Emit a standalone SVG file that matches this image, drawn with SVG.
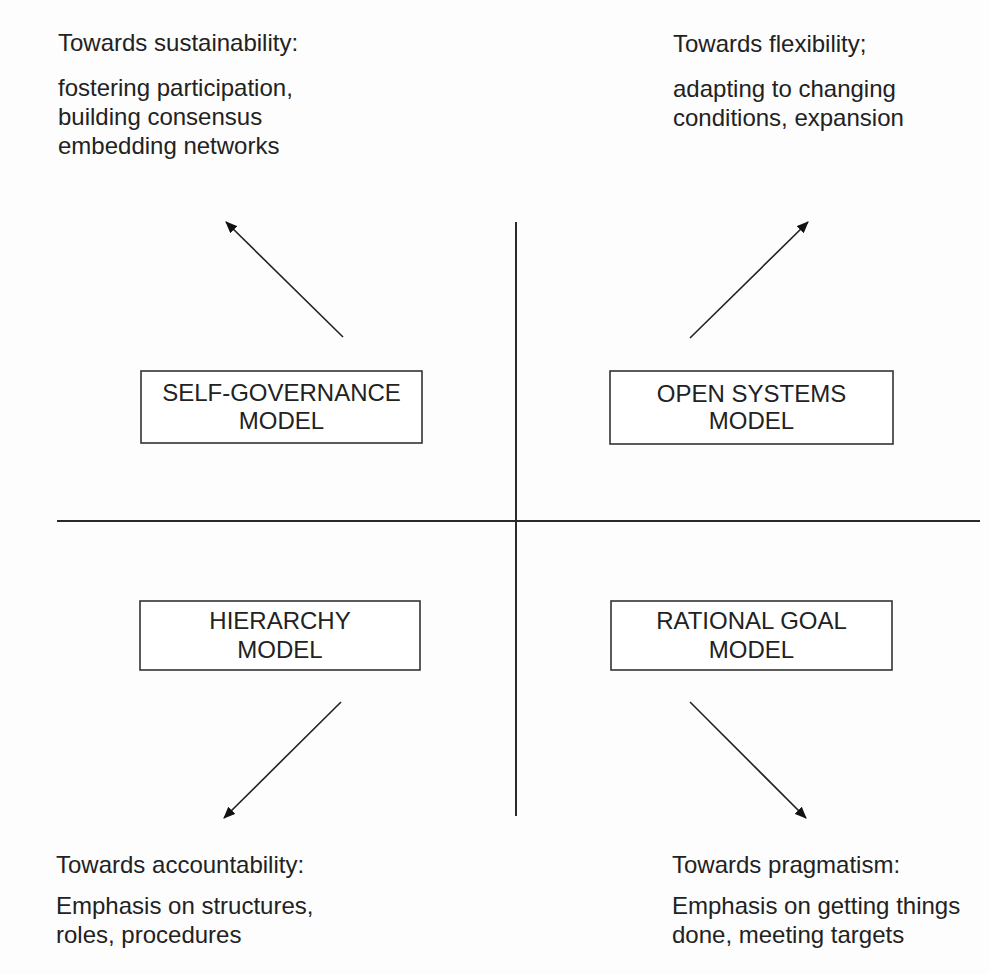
<svg xmlns="http://www.w3.org/2000/svg" width="989" height="974" viewBox="0 0 989 974">
<defs>
<style>
text{font-family:"Liberation Sans",Arial,sans-serif;font-size:24px;fill:#222}
.box{fill:#fff;stroke:#333;stroke-width:1.6}
.mid{text-anchor:middle}
.axis{stroke:#2a2a2a;stroke-width:2}
.arr{stroke:#222;stroke-width:1.6;fill:none;marker-end:url(#ah)}
</style>
<marker id="ah" viewBox="0 0 12 10" refX="11" refY="5" markerWidth="12" markerHeight="10" markerUnits="userSpaceOnUse" orient="auto">
<path d="M0,0 L12,5 L0,10 Z" fill="#111"/>
</marker>
</defs>
<rect width="989" height="974" fill="#fdfdfd"/>
<g id="connectors">
<line class="axis" x1="57" y1="521" x2="980" y2="521"/>
<line class="axis" x1="516" y1="222" x2="516" y2="816"/>
<line class="arr" x1="343" y1="337" x2="226" y2="222"/>
<line class="arr" x1="690" y1="338" x2="808" y2="222"/>
<line class="arr" x1="341" y1="702" x2="224" y2="818"/>
<line class="arr" x1="690" y1="702" x2="806" y2="818"/>
</g>
<g id="sustainability">
<text x="58" y="51">Towards sustainability:</text>
<text x="58" y="96">fostering participation,</text>
<text x="58" y="125">building consensus</text>
<text x="58" y="154">embedding networks</text>
</g>
<g id="flexibility">
<text x="673" y="52">Towards flexibility;</text>
<text x="673" y="97">adapting to changing</text>
<text x="673" y="126">conditions, expansion</text>
</g>
<g id="accountability">
<text x="56" y="873">Towards accountability:</text>
<text x="56" y="914">Emphasis on structures,</text>
<text x="56" y="943">roles, procedures</text>
</g>
<g id="pragmatism">
<text x="672" y="873">Towards pragmatism:</text>
<text x="672" y="914">Emphasis on getting things</text>
<text x="672" y="943">done, meeting targets</text>
</g>
<g id="self-governance">
<rect class="box" x="141" y="371" width="281" height="72"/>
<text class="mid" x="281.5" y="401">SELF-GOVERNANCE</text>
<text class="mid" x="281.5" y="429">MODEL</text>
</g>
<g id="open-systems">
<rect class="box" x="610" y="371" width="283" height="73"/>
<text class="mid" x="751.5" y="402">OPEN SYSTEMS</text>
<text class="mid" x="751.5" y="429">MODEL</text>
</g>
<g id="hierarchy">
<rect class="box" x="140" y="601" width="280" height="69"/>
<text class="mid" x="280" y="629">HIERARCHY</text>
<text class="mid" x="280" y="658">MODEL</text>
</g>
<g id="rational-goal">
<rect class="box" x="611" y="601" width="281" height="69"/>
<text class="mid" x="751.5" y="629">RATIONAL GOAL</text>
<text class="mid" x="751.5" y="658">MODEL</text>
</g>
</svg>
